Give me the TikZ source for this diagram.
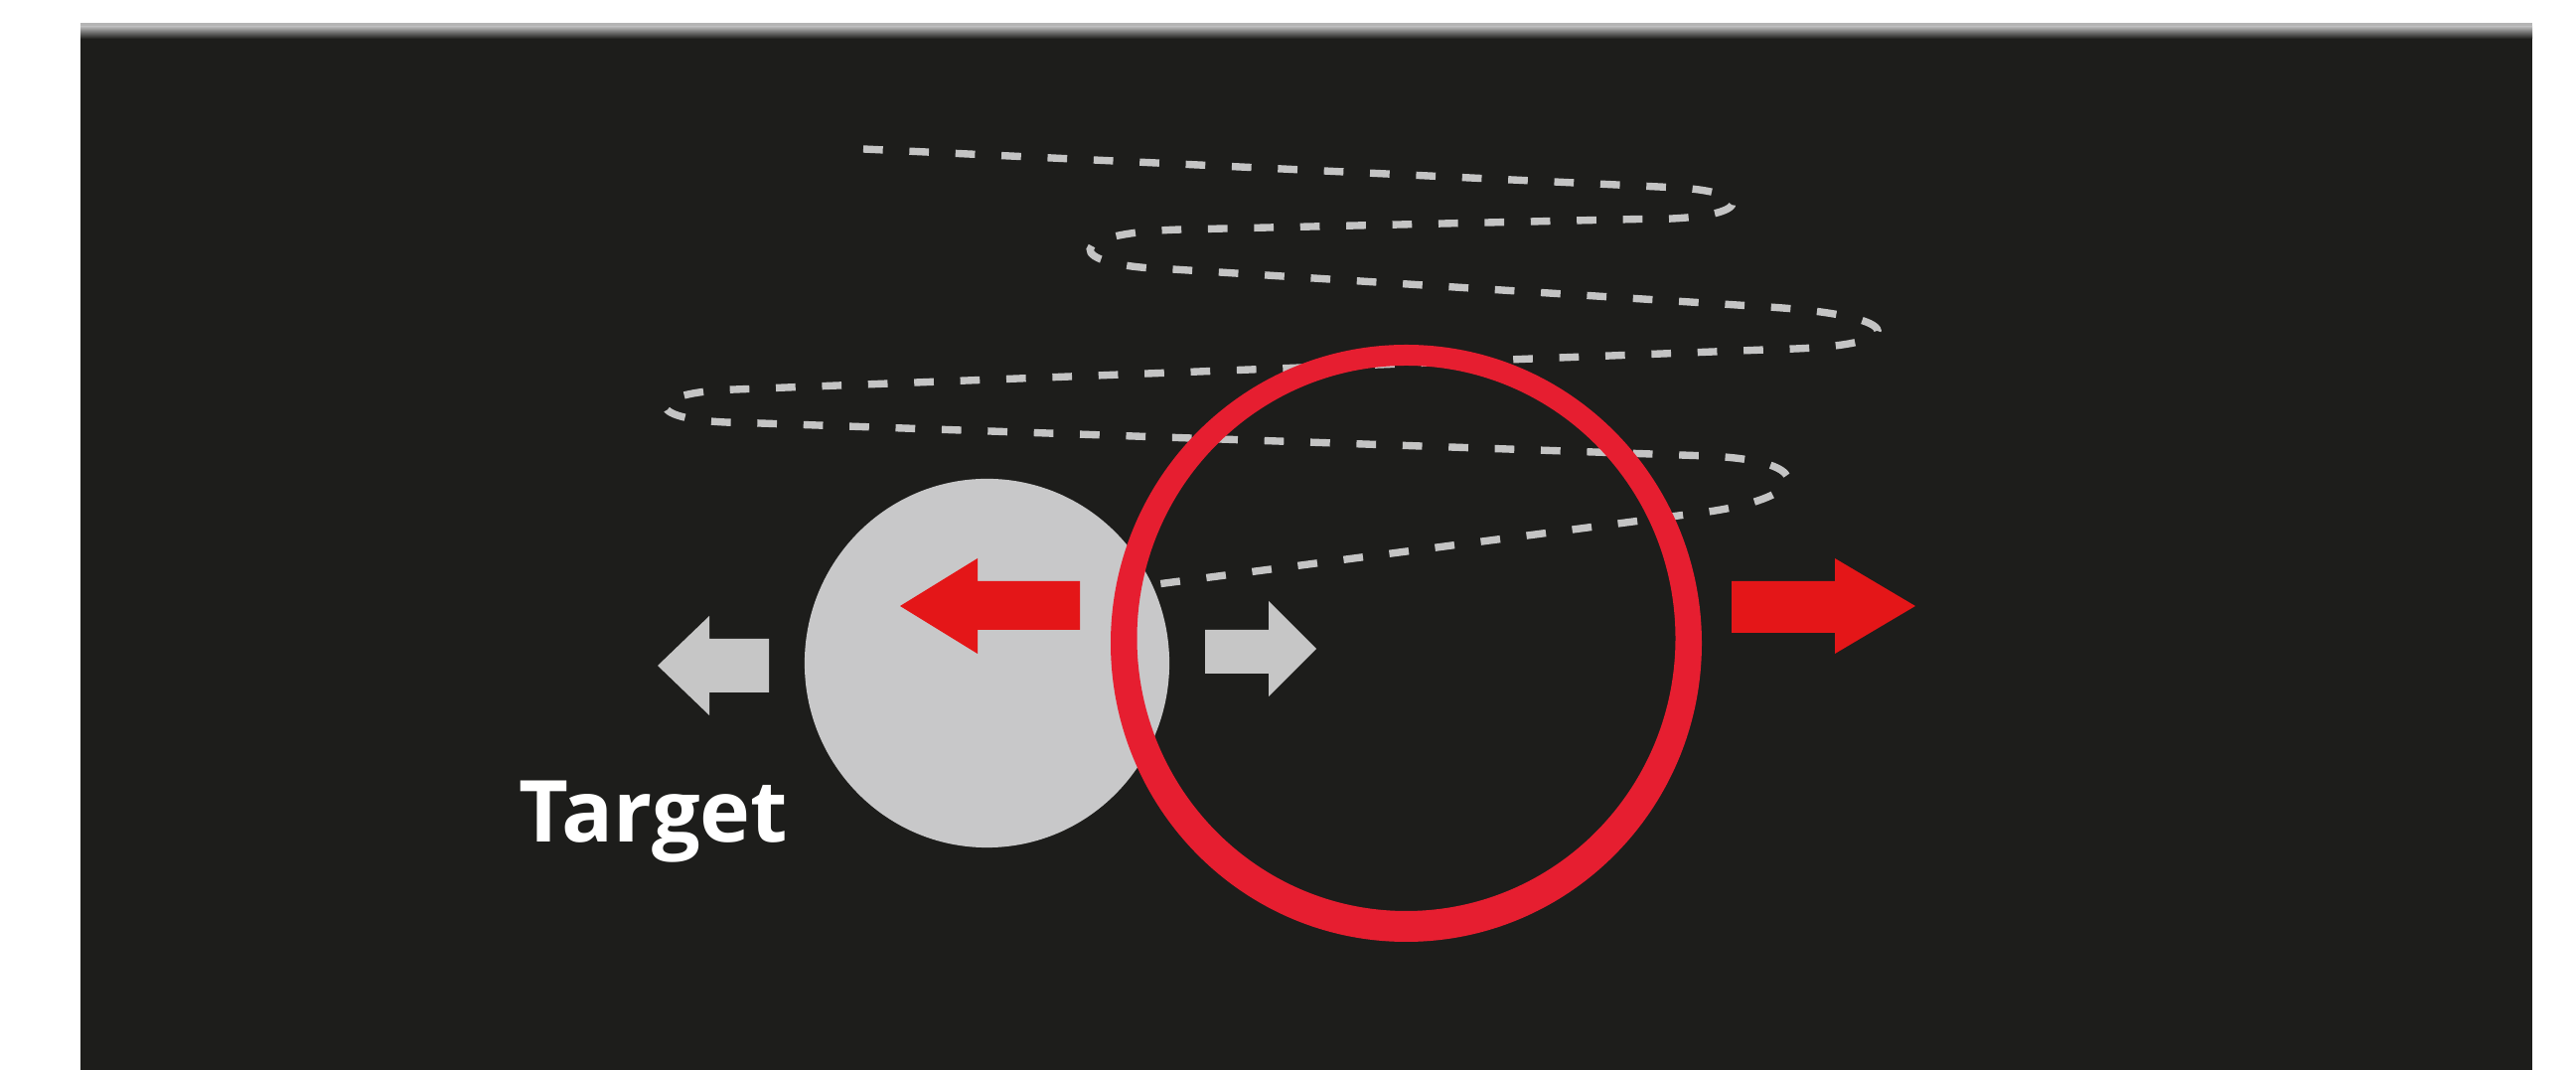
\documentclass[tikz,border=0pt]{standalone}
\usepackage{fontspec}
\newfontfamily\labelfont{Open Sans}
\usetikzlibrary{shapes.geometric}
\definecolor{bgdark}{RGB}{29,29,27}
\definecolor{topgray}{RGB}{180,180,180}
\definecolor{ballgray}{RGB}{200,200,201}
\definecolor{arrowgray}{RGB}{198,198,198}
\definecolor{ringred}{RGB}{230,30,48}
\definecolor{arrowred}{RGB}{228,22,24}
\definecolor{dashgray}{RGB}{196,196,196}
\tikzset{
  trail/.style={draw=dashgray, line width=2.1pt, dash pattern=on 5.6pt off 7.6pt},
  grayarrow/.style={fill=arrowgray},
  redarrow/.style={fill=arrowred},
  ballstyle/.style={ellipse, fill=ballgray, inner sep=0pt, minimum width=3.67cm, minimum height=3.71cm},
  labelstyle/.style={text=white, inner sep=0pt, font=\labelfont\bfseries\fontsize{24.5pt}{28pt}\selectfont}
}
\begin{document}
\begin{tikzpicture}[x=0.01cm, y=-0.01cm]
\useasboundingbox (0,0) rectangle (2593,1077);
\fill[white] (0,0) rectangle (2593,1077);
% dark panel with light top edge
\fill[bgdark] (81,23) rectangle (2549,1077);
\fill[topgray] (81,23) rectangle (2549,27);
\shade[top color=topgray, bottom color=bgdark] (81,27) rectangle (2549,39);
% dashed trail
\draw[trail] (869,150) -- (1680,188.5)
  .. controls (1772,192) and (1767,222) .. (1650,220.5)
  -- (1190,231)
  .. controls (1068,234) and (1068,268) .. (1180,271)
  -- (1780,309)
  .. controls (1925,318) and (1925,349) .. (1790,351.5)
  -- (740,392)
  .. controls (645,395) and (645,425) .. (750,425.5)
  -- (1720,459)
  .. controls (1830,464) and (1822,500) .. (1720,515)
  -- (1165,588);
% target ball
\node[ballstyle] (ball) at (993.5,667.5) {};
% arrows
\fill[grayarrow] (662,670) -- (714,620) -- (714,643) -- (774,643) -- (774,697) -- (714,697) -- (714,720) -- cycle;
\fill[redarrow] (906,610) -- (984,562) -- (984,585) -- (1087,585) -- (1087,634) -- (984,634) -- (984,658) -- cycle;
\fill[grayarrow] (1325,653) -- (1277,605) -- (1277,634) -- (1213,634) -- (1213,678) -- (1277,678) -- (1277,701) -- cycle;
\fill[redarrow] (1928,610) -- (1847,562) -- (1847,585) -- (1743,585) -- (1743,637) -- (1847,637) -- (1847,658) -- cycle;
% red ring
\fill[ringred, even odd rule] (1415.5,647.5) ellipse [x radius=297.5, y radius=300.5]
  (1415.5,642.5) ellipse [x radius=271, y radius=274.5];
% label
\node[labelstyle, anchor=base west] (label) at (522,848) {Target};
\end{tikzpicture}
\end{document}
